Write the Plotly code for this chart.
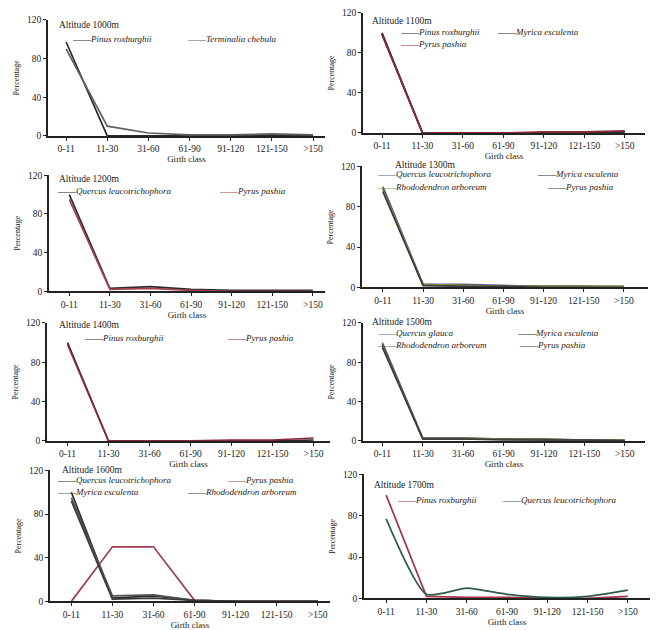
import plotly.graph_objects as go

W, H = 662, 630
FONT = "Liberation Serif"

girth = ["0-11", "11-30", "31-60", "61-90", "91-120", "121-150", ">150"]
y_ticks = [0, 40, 80, 120]

altitudes = ["Altitude 1000m", "Altitude 1100m", "Altitude 1200m", "Altitude 1300m",
             "Altitude 1400m", "Altitude 1500m", "Altitude 1600m", "Altitude 1700m"]

# series per panel: (name, values, colour)
p1000 = [("Pinus roxburghii", [97, 0, 0, 0, 0, 1, 0], "#2a2a2a"),
         ("Terminalia chebula", [90, 10, 3, 1, 1, 2, 1], "#606060")]
p1100 = [("Pinus roxburghii", [100, 0, 0, 0, 0, 0, 1], "#3a2020"),
         ("Myrica esculenta", [99, 0, 0, 0, 0, 0, 1], "#2a2a2a"),
         ("Pyrus pashia", [98, 0, 0, 0, 1, 1, 2], "#8b2a3a")]
p1200 = [("Quercus leucotrichophora", [100, 3, 5, 2, 1, 1, 1], "#2a2a2a"),
         ("Pyrus pashia", [95, 2, 3, 1, 0, 0, 0], "#a0404f")]
p1300 = [("Quercus leucotrichophora", [100, 3, 3, 2, 1, 1, 1], "#5a5fa0"),
         ("Myrica esculenta", [98, 2, 2, 1, 1, 1, 0], "#2a2a2a"),
         ("Rhododendron arboreum", [97, 3, 2, 1, 1, 1, 1], "#8a9a40"),
         ("Pyrus pashia", [95, 2, 1, 1, 0, 0, 0], "#3a3a3a")]
p1400 = [("Pinus roxburghii", [100, 0, 0, 0, 0, 0, 1], "#2a2a2a"),
         ("Pyrus pashia", [98, 0, 0, 0, 1, 1, 3], "#8b2a3a")]
p1500 = [("Quercus glauca", [100, 3, 3, 2, 2, 1, 1], "#707070"),
         ("Myrica esculenta", [98, 2, 2, 2, 1, 1, 0], "#2a2a2a"),
         ("Rhododendron arboreum", [97, 3, 3, 2, 2, 1, 1], "#6a6a50"),
         ("Pyrus pashia", [95, 2, 2, 1, 1, 1, 0], "#3a3a3a")]
p1600 = [("Quercus leucotrichophora", [100, 3, 5, 1, 0, 0, 0], "#2a2a2a"),
         ("Pyrus pashia", [0, 50, 50, 1, 0, 0, 0], "#a0404f"),
         ("Myrica esculenta", [95, 5, 6, 1, 0, 0, 0], "#555555"),
         ("Rhododendron arboreum", [92, 2, 3, 1, 0, 0, 0], "#3a3a3a")]
p1700 = [("Pinus roxburghii", [100, 2, 1, 1, 0, 0, 2], "#a03545"),
         ("Quercus leucotrichophora", [77, 4, 10, 4, 1, 2, 8], "#2f5a4a")]

panels = [p1000, p1100, p1200, p1300, p1400, p1500, p1600, p1700]

# layout geometry (pixels): left x of y-axis, right end of x-axis, y of 120, y of 0
geom = [
    (48, 325, 15, 133), (363, 645, 8, 130),
    (49, 325, 173, 291), (362, 648, 164, 287),
    (47, 330, 323, 443), (363, 645, 323, 443),
    (50, 330, 473, 606), (364, 650, 477, 603),
]
xranges = [(-0.44, 6.29), (-0.47, 6.5), (-0.5, 6.3), (-0.52, 6.6),
           (-0.5, 6.4), (-0.48, 6.5), (-0.52, 6.3), (-0.55, 6.55)]

# legend positions (pixels): title pos, then entry positions
leg_pos = [
    ((57, 20), [(70, 35), (185, 35)]),
    ((370, 16), [(398, 27), (495, 27), (398, 40)]),
    ((57, 177), [(55, 189), (217, 189)]),
    ((393, 163), [(375, 172), (535, 172), (375, 185), (545, 185)]),
    ((57, 325), [(82, 338), (225, 338)]),
    ((370, 322), [(375, 333), (515, 333), (375, 345), (517, 345)]),
    ((60, 473), [(55, 483), (225, 483), (55, 495), (185, 495)]),
    ((372, 488), [(395, 503), (500, 503)]),
]

fig = go.Figure()
annotations = []

for i, series in enumerate(panels):
    k = i + 1
    xa = "x" if k == 1 else f"x{k}"
    ya = "y" if k == 1 else f"y{k}"
    x0, x1, ytop, ybot = geom[i]
    for name, vals, col in series:
        smooth = (i == 7 and name.startswith("Quercus"))
        fig.add_trace(go.Scatter(x=girth, y=vals, mode="lines", name=name,
                                 line=dict(color=col, width=1.7,
                                           shape="spline" if smooth else "linear",
                                           smoothing=0.6 if smooth else None),
                                 xaxis=xa, yaxis=ya, showlegend=False))
    xkey = "xaxis" if k == 1 else f"xaxis{k}"
    ykey = "yaxis" if k == 1 else f"yaxis{k}"
    fig.update_layout(**{
        xkey: dict(domain=[x0 / W, x1 / W], anchor=ya, type="category",
                   categoryorder="array", categoryarray=girth,
                   range=list(xranges[i]), showgrid=False, zeroline=False,
                   showline=True, linecolor="#222", linewidth=1.8,
                   ticks="outside", ticklen=3, tickcolor="#222",
                   tickfont=dict(family=FONT, size=9.5, color="#222"),
                   title=dict(text="Girth class", standoff=2,
                              font=dict(family=FONT, size=9, color="#222"))),
        ykey: dict(domain=[1 - ybot / H, 1 - ytop / H], anchor=xa,
                   range=[0, 120], tickvals=y_ticks, showgrid=False,
                   zeroline=False, showline=True, linecolor="#222", linewidth=1.8,
                   ticks="outside", ticklen=3, tickcolor="#222",
                   tickfont=dict(family=FONT, size=9.5, color="#222"),
                   title=dict(text="Percentage", standoff=6,
                              font=dict(family=FONT, size=8, color="#222"))),
    })
    (tx, ty), entries = leg_pos[i]
    annotations.append(dict(text=altitudes[i], x=tx / W, y=1 - ty / H,
                            xref="paper", yref="paper", xanchor="left", yanchor="middle",
                            showarrow=False, font=dict(family=FONT, size=9.5, color="#222")))
    for (name, vals, col), (ex, ey) in zip(series, entries):
        annotations.append(dict(
            text=f"<span style='color:{col}'>——</span><i>{name}</i>",
            x=ex / W, y=1 - ey / H, xref="paper", yref="paper",
            xanchor="left", yanchor="middle", showarrow=False,
            font=dict(family=FONT, size=9, color="#222")))

fig.update_layout(width=W, height=H, margin=dict(l=0, r=0, t=0, b=0),
                  paper_bgcolor="white", plot_bgcolor="white",
                  annotations=annotations, showlegend=False)

fig.write_html("out.html")
